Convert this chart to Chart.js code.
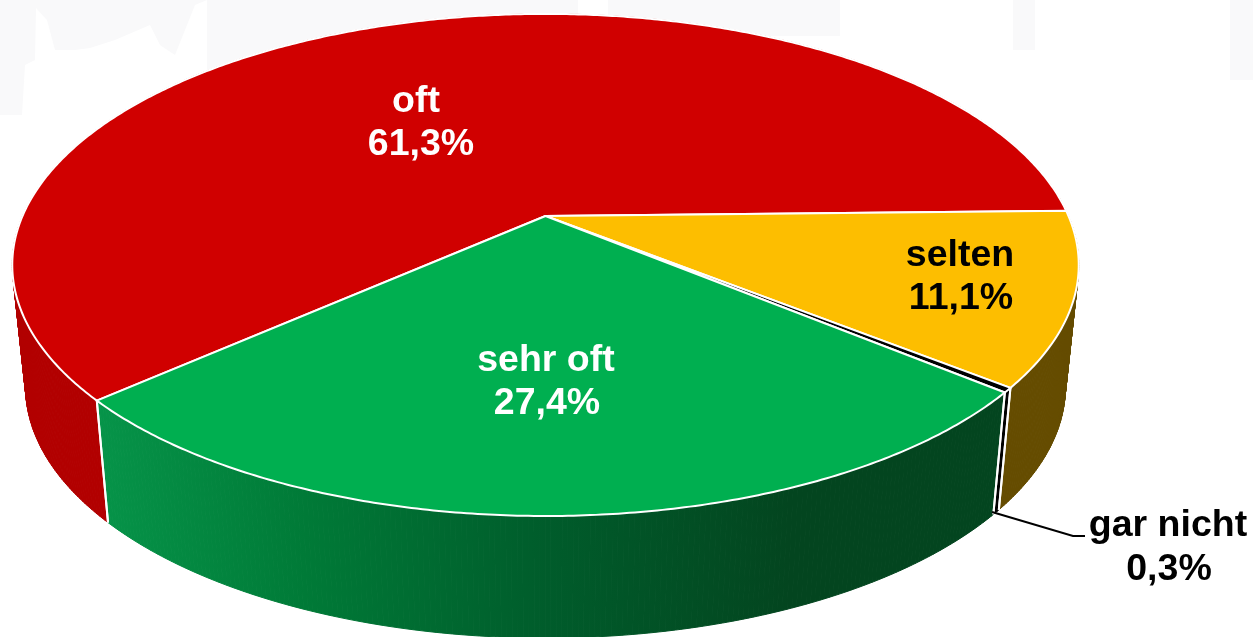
<!DOCTYPE html>
<html>
<head>
<meta charset="utf-8">
<title>Pie</title>
<script src="https://cdn.jsdelivr.net/npm/chart.js@4"></script>
<style>
html, body { margin: 0; padding: 0; background: #fff; overflow: hidden; }
canvas { display: block; }
</style>
</head>
<body>
<canvas id="pie" width="1253" height="637"></canvas>
<script>
// chart data
var categories = ["oft", "selten", "gar nicht", "sehr oft"];
var percentValues = [61.3, 11.1, 0.3, 27.4];

var topColors = ["#d00000", "#fdbe00", "#000000", "#00af50"];
var wallColors = ["#b20000", "#654c00", "#000000", null];
var textColors = ["#ffffff", "#000000", "#000000", "#ffffff"];

// label line centres: x1, y1, x2, y2
var labelSpots = [
  [416, 102, 421, 145],
  [960, 256, 961, 299],
  [1168, 526, 1169, 570],
  [546, 361, 547, 404]
];

// the tilted disc: a circle seen through a perspective
var cx = 545.5, cy = 216, radX = 523, radY = 241.5, tilt = 0.195;
var depth = 122, shrink = 0.975;

function project(deg, lower) {
  var t = deg * Math.PI / 180;
  var u = Math.cos(t), v = Math.sin(t);
  var w = 1 - tilt * v;
  return {
    x: cx + radX * (lower ? shrink : 1) * u / w,
    y: cy + (lower ? depth : 0) + radY * v / w
  };
}

function arcPoints(ctx, from, to) {
  var n = Math.max(2, Math.ceil((to - from) * 2));
  for (var i = 0; i <= n; i++) {
    var p = project(from + (to - from) * i / n, false);
    ctx.lineTo(p.x, p.y);
  }
}

function greenWall(ctx) {
  var g = ctx.createLinearGradient(97, 0, 790, 0);
  g.addColorStop(0, "#069449");
  g.addColorStop(0.3, "#007a37");
  g.addColorStop(0.65, "#005c2b");
  g.addColorStop(1, "#03451f");
  return g;
}

// small quads so that the part round the tangent is filled too
function drawWall(ctx, from, to, color) {
  var n = Math.max(2, Math.ceil((to - from) * 2));
  ctx.fillStyle = color;
  ctx.strokeStyle = color;
  ctx.lineWidth = 1;
  for (var i = 0; i < n; i++) {
    var a = from + (to - from) * i / n;
    var b = from + (to - from) * (i + 1) / n;
    var p1 = project(a, false), p2 = project(b, false);
    var p3 = project(b, true), p4 = project(a, true);
    ctx.beginPath();
    ctx.moveTo(p1.x, p1.y);
    ctx.lineTo(p2.x, p2.y);
    ctx.lineTo(p3.x, p3.y);
    ctx.lineTo(p4.x, p4.y);
    ctx.closePath();
    ctx.fill();
    ctx.stroke();
  }
}

function drawSeam(ctx, deg) {
  var d = ((deg % 360) + 360) % 360;
  if (d <= 0 || d >= 180) return;
  var p1 = project(d, false), p2 = project(d, true);
  ctx.beginPath();
  ctx.moveTo(p1.x, p1.y);
  ctx.lineTo(p2.x, p2.y);
  ctx.strokeStyle = "#fff";
  ctx.lineWidth = 2;
  ctx.stroke();
}

// faint grey backdrop with the pale skyline behind the pie
function drawBackdrop(ctx) {
  var skyline = [[22,115],[25,65],[35,60],[36,8],[47,20],[55,50],[75,50],[90,48],[115,40],[150,25],[160,45],[175,55],[195,5],[207,0],[207,70],[240,70],[240,115]];
  ctx.fillStyle = "#f9f9fa";
  ctx.fillRect(0, 0, 240, 115);
  ctx.fillRect(240, 0, 180, 70);
  ctx.fillRect(420, 0, 420, 36);
  ctx.fillRect(1013, 0, 22, 50);
  ctx.fillRect(1230, 0, 23, 80);
  ctx.fillStyle = "#fff";
  ctx.beginPath();
  skyline.forEach(function(p) { ctx.lineTo(p[0], p[1]); });
  ctx.closePath();
  ctx.fill();
  ctx.fillRect(578, 0, 30, 36);
}

var pie3d = {
  id: "pie3d",
  beforeDraw: function(chart) {
    var ctx = chart.ctx;
    ctx.save();
    ctx.fillStyle = "#fff";
    ctx.fillRect(0, 0, 1253, 637);
    drawBackdrop(ctx);
    ctx.restore();
  },
  beforeDatasetsDraw: function(chart) {
    var ctx = chart.ctx;
    var arcs = chart.getDatasetMeta(0).data;
    var i, from, to;
    ctx.save();
    ctx.lineJoin = "round";

    // side walls first, the top disc hides the back part
    for (i = 0; i < arcs.length; i++) {
      from = arcs[i].startAngle * 180 / Math.PI;
      to = arcs[i].endAngle * 180 / Math.PI;
      drawWall(ctx, from, to, wallColors[i] || greenWall(ctx));
    }
    for (i = 0; i < arcs.length; i++) {
      drawSeam(ctx, arcs[i].startAngle * 180 / Math.PI);
      drawSeam(ctx, arcs[i].endAngle * 180 / Math.PI);
    }

    // top disc
    ctx.strokeStyle = "#fff";
    ctx.lineWidth = 2;
    for (i = 0; i < arcs.length; i++) {
      from = arcs[i].startAngle * 180 / Math.PI;
      to = arcs[i].endAngle * 180 / Math.PI;
      ctx.beginPath();
      ctx.moveTo(cx, cy);
      arcPoints(ctx, from, to);
      ctx.closePath();
      ctx.fillStyle = arcs[i].options.backgroundColor;
      ctx.fill();
      ctx.stroke();
    }
    ctx.restore();
    return false;
  },
  // returning false above skips afterDatasetsDraw, so the texts go here
  afterDraw: function(chart) {
    var ctx = chart.ctx;
    ctx.save();

    // leader line of the small slice
    ctx.strokeStyle = "#000";
    ctx.lineWidth = 2;
    ctx.beginPath();
    ctx.moveTo(992, 512);
    ctx.lineTo(1073, 536);
    ctx.lineTo(1085, 536);
    ctx.stroke();

    ctx.font = "bold 37.5px 'Liberation Sans', Arial, sans-serif";
    ctx.textAlign = "center";
    ctx.textBaseline = "middle";
    categories.forEach(function(name, i) {
      var spot = labelSpots[i];
      ctx.fillStyle = textColors[i];
      ctx.fillText(name, spot[0], spot[1]);
      ctx.fillText(percentValues[i].toFixed(1).replace(".", ",") + "%", spot[2], spot[3]);
    });
    ctx.restore();
  }
};

new Chart(document.getElementById("pie"), {
  type: "pie",
  data: {
    labels: categories,
    datasets: [{
      data: percentValues,
      backgroundColor: topColors,
      borderWidth: 0
    }]
  },
  options: {
    responsive: false,
    animation: false,
    events: [],
    rotation: 228.3,
    plugins: { legend: { display: false }, tooltip: { enabled: false } }
  },
  plugins: [pie3d]
});
</script>
</body>
</html>
